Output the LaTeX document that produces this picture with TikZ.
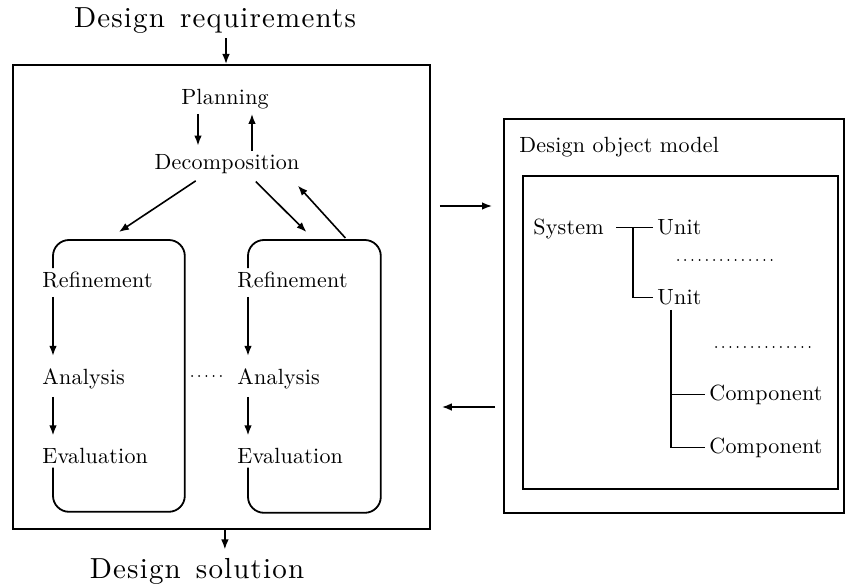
\documentclass[tikz,border=0pt]{standalone}
\usepackage{fontspec}
\usepackage{tikz}
\usetikzlibrary{arrows.meta}

\newfontfamily\lblfont{lmroman10-regular.otf}[LetterSpace=1]
\newfontfamily\bigfont{lmroman10-regular.otf}[LetterSpace=4, WordSpace=1.4]

\begin{document}
\begin{tikzpicture}[x=0.5pt, y=-0.5pt,
  >={Latex[length=5pt,width=3.8pt]},
  txt/.style  ={inner sep=2pt, anchor=base west, font=\lblfont\fontsize{11}{13}\selectfont},
  big/.style  ={inner sep=2pt, anchor=base, font=\bigfont\fontsize{14.5}{17}\selectfont},
  frame/.style={draw, line width=.9pt, anchor=north west, inner sep=0pt},
  cyc/.style  ={anchor=north west, inner sep=0pt},
  rbox/.style ={draw, line width=.9pt, rounded corners=8pt},
  arr/.style  ={->, line width=.8pt},
  tree/.style ={line width=.55pt},
  dots/.style ={line width=1pt, line cap=round, dash pattern=on 0pt off 3.6pt}]

  \useasboundingbox (0,0) rectangle (846,588);

  % --- design process ----------------------------------------------------
  \node[big] (req) at (215,28) {Design requirements};
  \node[frame, minimum width=208.5pt, minimum height=232pt] (main) at (12,64) {};
  \node[big] (sol) at (197,578) {Design solution};

  \node[txt, anchor=base] (plan)   at (225,105) {Planning};
  \node[txt, anchor=base] (decomp) at (227,170) {Decomposition};

  \node[cyc, minimum width=65.5pt, minimum height=135.5pt] (cycA) at (53,240) {};
  \node[cyc, minimum width=66pt,   minimum height=136pt]   (cycB) at (248,240) {};

  \node[txt] (refA)  at (38,288) {Refinement};
  \node[txt] (anaA)  at (38,384) {Analysis};
  \node[txt] (evalA) at (38,463) {Evaluation};
  \node[txt] (refB)  at (233,288) {Refinement};
  \node[txt] (anaB)  at (233,384) {Analysis};
  \node[txt] (evalB) at (233,463) {Evaluation};

  % open loops round each refinement cycle
  \draw[rbox] (refA.north -| cycA.west) |- (cycA.north east)
    |- (cycA.south west) -- (evalA.south -| cycA.west);
  \draw[rbox] (refB.north -| cycB.west) |- (cycB.north east)
    |- (cycB.south west) -- (evalB.south -| cycB.west);
  \draw[dots] (192,376) -- (226,376);

  % --- design object model -----------------------------------------------
  \node[frame, minimum width=170pt,   minimum height=197pt]   (dom)   at (503,118) {};
  \node[txt] (domTitle) at (515,153) {Design object model};
  \node[frame, minimum width=157.5pt, minimum height=156.5pt] (domIn) at (522,175) {};

  \node[txt] (sys)   at (529,235) {System};
  \node[txt] (unitA) at (653,235) {Unit};
  \node[txt] (unitB) at (653,305) {Unit};
  \node[txt] (compA) at (705,400) {Component};
  \node[txt] (compB) at (705,453) {Component};

  \coordinate (sysJoin) at ([xshift=-10pt]unitA.west);
  \coordinate (uBranch) at ([xshift=9pt]unitB.south west);
  \draw[tree] ([xshift=-18.5pt]unitA.west) -- (unitA.west);
  \draw[tree] (sysJoin) |- (unitB.west);
  \draw[tree] (uBranch) |- (compB.west);
  \draw[tree] (uBranch |- compA.west) -- (compA.west);
  \draw[dots] (678,260) -- (774,260);
  \draw[dots] (716,347) -- (812,347);

  % --- edges -------------------------------------------------------------
  \coordinate (reqArr) at ([xshift=5.5pt]req.south);
  \coordinate (solArr) at ([xshift=1.75pt]main.south);
  \draw[arr] (reqArr) -- (reqArr |- main.north);
  \draw[arr, shorten >=2pt] (solArr) -- (solArr |- sol.north);

  \coordinate (planL) at ([xshift=-13.5pt]plan.south);
  \coordinate (planR) at ([xshift=13.5pt]plan.south);
  \draw[arr, shorten >=2.5pt] (planL) -- (planL |- decomp.north);
  \draw[arr] (planR |- decomp.north) -- (planR);

  \draw[arr, shorten <=2pt] ([xshift=-14pt]decomp.south) -- ([yshift=4pt]cycA.north);
  \draw[arr, shorten <=2pt] ([xshift=13pt]decomp.south) -- ([xshift=-4pt,yshift=4pt]cycB.north);
  \draw[arr] ([xshift=15.5pt,yshift=1pt]cycB.north) -- ([xshift=-3pt,yshift=-3.5pt]decomp.south east);

  \draw[arr, shorten <=2pt, shorten >=4pt] (refA.south -| cycA.west) -- (anaA.north -| cycA.west);
  \draw[arr, shorten <=2pt, shorten >=4pt] (anaA.south -| cycA.west) -- (evalA.north -| cycA.west);
  \draw[arr, shorten <=2pt, shorten >=4pt] (refB.south -| cycB.west) -- (anaB.north -| cycB.west);
  \draw[arr, shorten <=2pt, shorten >=4pt] (anaB.south -| cycB.west) -- (evalB.north -| cycB.west);

  \coordinate (fwdY)  at (0,206);
  \coordinate (backY) at (0,407);
  \draw[arr, shorten <=4.5pt, shorten >=5.5pt] (fwdY -| main.east) -- (fwdY -| dom.west);
  \draw[arr, shorten <=4pt, shorten >=5.5pt] (backY -| dom.west) -- (backY -| main.east);
\end{tikzpicture}
\end{document}
